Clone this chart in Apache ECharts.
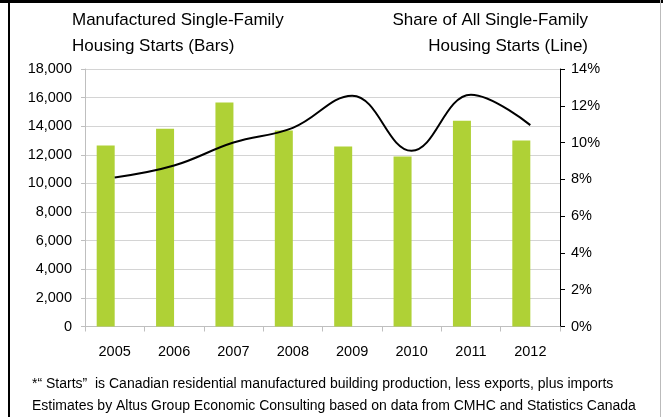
<!DOCTYPE html>
<html>
<head>
<meta charset="utf-8">
<script src="https://cdn.jsdelivr.net/npm/echarts@6/dist/echarts.min.js"></script>
<style>
  html, body { margin: 0; padding: 0; background: #fff; }
  #chart { width: 663px; height: 417px; }
</style>
</head>
<body>
<div id="chart"></div>
<script>
// chart data
const years = ['2005', '2006', '2007', '2008', '2009', '2010', '2011', '2012'];
const starts = [12650, 13830, 15650, 13700, 12580, 11880, 14390, 13000];
const sharePct = [8.1, 8.75, 10.0, 10.8, 12.55, 9.55, 12.6, 10.95];
const leftTicks = { min: 0, max: 18000, interval: 2000 };
const rightTicks = { min: 0, max: 14, interval: 2 };
const leftTitle = ['Manufactured Single-Family', 'Housing Starts (Bars)'];
const rightTitle = ['Share of All Single-Family', 'Housing Starts (Line)'];
const footnotes = [
  '*\u201c Starts\u201d  is Canadian residential manufactured building production, less exports, plus imports',
  'Estimates by Altus Group Economic Consulting based on data from CMHC and Statistics Canada'
];

const font = 'Liberation Sans, Arial, sans-serif';
const chart = echarts.init(document.getElementById('chart'), null, { renderer: 'canvas' });

function txt(str, x, y, size, align) {
  return {
    type: 'text', x: x, y: y,
    style: { text: str, font: size + 'px ' + font, fill: '#000', textAlign: align || 'left', textVerticalAlign: 'middle' }
  };
}

chart.setOption({
  animation: false,
  textStyle: { fontFamily: font, color: '#000' },
  grid: { left: 85, right: 103, top: 69, bottom: 90.5 },
  xAxis: {
    type: 'category',
    data: years,
    axisLine: { lineStyle: { color: '#bfbfbf', width: 1 } },
    axisTick: { show: true, length: 5, lineStyle: { color: '#bfbfbf' } },
    axisLabel: { fontSize: 14.5, color: '#000', margin: 18, fontFamily: font }
  },
  yAxis: [
    {
      type: 'value',
      min: leftTicks.min, max: leftTicks.max, interval: leftTicks.interval,
      axisLine: { show: true, lineStyle: { color: '#bfbfbf' } },
      axisTick: { show: true, length: 4, lineStyle: { color: '#bfbfbf' } },
      axisLabel: {
        fontSize: 14.5, color: '#000', margin: 13, fontFamily: font,
        formatter: v => v.toLocaleString('en-US')
      },
      splitLine: { lineStyle: { color: '#d4d4d4', width: 1 } }
    },
    {
      type: 'value',
      min: rightTicks.min, max: rightTicks.max, interval: rightTicks.interval,
      axisLine: { show: true, lineStyle: { color: '#000' } },
      axisTick: { show: true, length: 5, lineStyle: { color: '#000' } },
      axisLabel: { fontSize: 14.5, color: '#000', margin: 11, fontFamily: font, formatter: '{value}%' },
      splitLine: { show: false }
    }
  ],
  series: [
    {
      name: 'Starts',
      type: 'bar',
      data: starts,
      barWidth: 18,
      barGap: '0%',
      itemStyle: { color: '#afd136' }
    },
    {
      // empty companion bar so the real bar sits left of the category centre
      name: 'spacer',
      type: 'bar',
      data: years.map(() => '-'),
      barWidth: 18,
      barGap: '0%'
    },
    {
      name: 'Share',
      type: 'line',
      yAxisIndex: 1,
      data: sharePct,
      smooth: 0.4,
      symbol: 'none',
      lineStyle: { color: '#000', width: 2 },
      z: 5
    }
  ],
  graphic: [
    { type: 'rect', shape: { x: 0, y: 0, width: 663, height: 3 }, style: { fill: '#000' } },
    { type: 'rect', shape: { x: 8, y: 0, width: 2, height: 417 }, style: { fill: '#000' } },
    { type: 'rect', shape: { x: 660, y: 0, width: 1, height: 417 }, style: { fill: '#bbb' } },
    txt(leftTitle[0], 72, 20, 17),
    txt(leftTitle[1], 72, 46, 17),
    txt(rightTitle[0], 588, 20, 17, 'right'),
    txt(rightTitle[1], 588, 46, 17, 'right'),
    txt(footnotes[0], 32, 384, 14),
    txt(footnotes[1], 32, 406, 14)
  ]
});
</script>
</body>
</html>
